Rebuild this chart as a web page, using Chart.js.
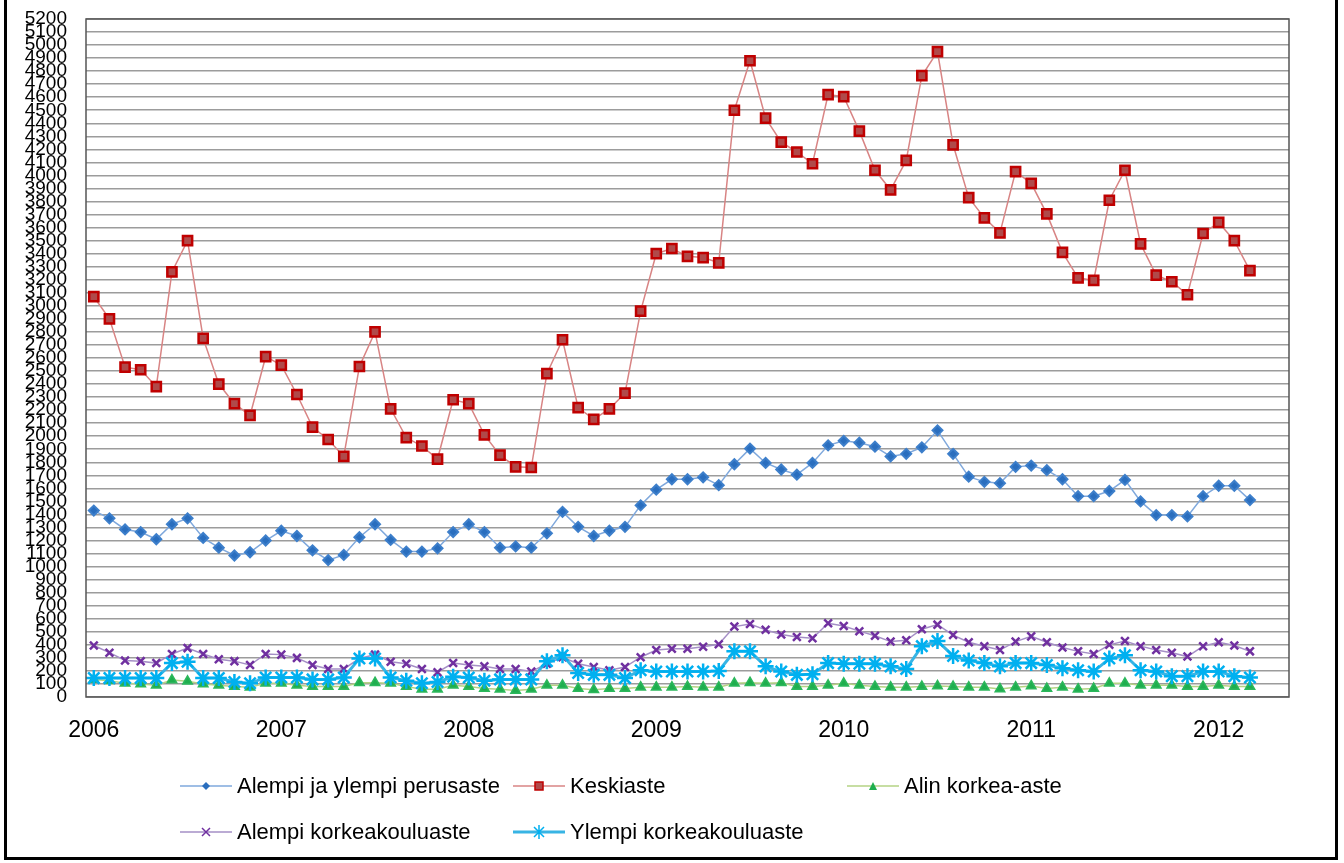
<!DOCTYPE html>
<html>
<head>
<meta charset="utf-8">
<script src="https://cdn.jsdelivr.net/npm/chart.js@4.4.1/dist/chart.umd.min.js"></script>
<style>
    html, body { margin: 0; padding: 0; background: #fff; }
    #wrap { position: relative; width: 1344px; height: 863px; overflow: hidden; }
    #kaavio { position: absolute; left: 0; top: 0; }
    #kehys {
        position: absolute; left: 4px; top: 0; width: 1328px; height: 857px;
        border: 3px solid #000; border-top: none; pointer-events: none;
    }
    .selite {
        position: absolute; display: flex; align-items: center; height: 24px;
        font-family: "Liberation Sans", Arial, sans-serif; font-size: 22px; color: #000;
        white-space: nowrap;
    }
    .selite svg { margin-right: 5px; }
</style>
</head>
<body>
<div id="wrap">
    <canvas id="kaavio" width="1344" height="863"></canvas>
    <div id="kehys"></div>
    <div id="selitteet"></div>
</div>
<script>
// Vuodet ja kuukaudet (x-akseli)
const vuodet = ['2006', '2007', '2008', '2009', '2010', '2011', '2012'];
const kuukaudet = ['01', '02', '03', '04', '05', '06', '07', '08', '09', '10', '11', '12'];

// Sarjat, tammikuu 2006 - maaliskuu 2012
const perusaste = [1430, 1370, 1285, 1265, 1210, 1325, 1370, 1220, 1145, 1085, 1110, 1200,
    1275, 1235, 1125, 1050, 1090, 1225, 1325, 1205, 1115, 1115, 1140, 1265,
    1325, 1265, 1145, 1155, 1145, 1255, 1420, 1305, 1235, 1275, 1305, 1470,
    1590, 1670, 1670, 1685, 1625, 1785, 1905, 1795, 1745, 1705, 1795, 1930,
    1965, 1950, 1920, 1845, 1865, 1915, 2045, 1865, 1690, 1650, 1640, 1765,
    1775, 1740, 1670, 1540, 1540, 1580, 1665, 1500, 1395, 1395, 1385, 1540,
    1620, 1620, 1510];

const keskiaste = [3070, 2900, 2530, 2510, 2380, 3260, 3500, 2750, 2400, 2250, 2160, 2610,
    2545, 2320, 2070, 1975, 1845, 2535, 2800, 2210, 1990, 1925, 1825, 2280,
    2250, 2010, 1855, 1765, 1760, 2480, 2740, 2220, 2130, 2210, 2330, 2960,
    3400, 3440, 3380, 3370, 3330, 4500, 4880, 4440, 4255, 4180, 4090, 4620,
    4605, 4340, 4040, 3890, 4115, 4765, 4950, 4235, 3830, 3675, 3560, 4030,
    3940, 3705, 3410, 3215, 3195, 3810, 4040, 3475, 3235, 3185, 3085, 3555,
    3640, 3500, 3270];

const alinKorkea = [135, 125, 105, 100, 90, 130, 120, 100, 90, 80, 75, 105,
    105, 90, 80, 80, 80, 110, 110, 105, 80, 60, 60, 90,
    80, 65, 60, 50, 60, 90, 90, 65, 55, 65, 65, 75,
    75, 75, 80, 75, 75, 105, 110, 105, 110, 80, 80, 90,
    105, 90, 80, 75, 75, 80, 85, 80, 75, 75, 62, 75,
    85, 65, 75, 60, 65, 105, 105, 90, 90, 90, 80, 80,
    90, 80, 80];

const alempiKorkea = [395, 340, 280, 275, 260, 330, 375, 330, 290, 275, 245, 330,
    325, 300, 245, 215, 215, 295, 325, 270, 255, 215, 190, 260,
    245, 235, 215, 215, 195, 255, 305, 255, 230, 205, 230, 305,
    360, 370, 370, 385, 405, 540, 560, 515, 480, 460, 450, 565,
    545, 505, 470, 425, 435, 520, 555, 475, 420, 390, 360, 425,
    465, 420, 380, 350, 330, 400, 430, 390, 360, 340, 310, 390,
    420, 395, 350];

const ylempiKorkea = [145, 145, 145, 145, 145, 260, 270, 145, 145, 115, 105, 150,
    150, 150, 135, 135, 150, 295, 295, 150, 125, 105, 115, 155,
    150, 125, 135, 135, 135, 275, 320, 185, 170, 170, 145, 205,
    195, 195, 195, 195, 200, 350, 350, 235, 195, 170, 175, 260,
    255, 255, 255, 235, 215, 390, 430, 315, 280, 260, 235, 260,
    260, 245, 220, 205, 195, 295, 320, 205, 195, 160, 160, 195,
    195, 160, 150];

// Akseli jatkuu pari kuukautta viimeisen arvon yli
const kategoriat = [];
vuodet.forEach(v => kuukaudet.forEach(k => kategoriat.push(k + '/' + v)));
const labels = kategoriat.slice(0, 77);

// Sarjojen tyylit (Excel-tyyliset merkit)
const sarjat = [
    { nimi: 'Alempi ja ylempi perusaste', data: perusaste, viiva: '#7FA8DC', merkki: '#2A6EBE', reuna: '#3D7FCB', tyyli: 'rectRot', koko: 5, paksuus: 1.5, merkkiReuna: 2 },
    { nimi: 'Keskiaste', data: keskiaste, viiva: '#D88484', merkki: '#B04A4A', reuna: '#C00000', tyyli: 'rect', koko: 6.5, paksuus: 1.5, merkkiReuna: 2.5 },
    { nimi: 'Alin korkea-aste', data: alinKorkea, viiva: '#B5D384', merkki: '#1FAE4E', reuna: '#2CB85C', tyyli: 'triangle', koko: 5.5, paksuus: 1.5, merkkiReuna: 1.5 },
    { nimi: 'Alempi korkeakouluaste', data: alempiKorkea, viiva: '#A58FC6', merkki: '#7030A0', reuna: '#7030A0', tyyli: 'crossRot', koko: 5.5, paksuus: 1.5, merkkiReuna: 2.5 },
    { nimi: 'Ylempi korkeakouluaste', data: ylempiKorkea, viiva: '#38B4E4', merkki: '#00B0F0', reuna: '#00B0F0', tyyli: 'star', koko: 8, paksuus: 3, merkkiReuna: 2.5 },
];

// Piirtoalueen reunaviiva
const reunaPlugin = {
    id: 'reuna',
    afterDraw(chart) {
        const { ctx, chartArea } = chart;
        ctx.save();
        ctx.strokeStyle = '#555';
        ctx.lineWidth = 1.5;
        ctx.strokeRect(chartArea.left, chartArea.top, chartArea.right - chartArea.left, chartArea.bottom - chartArea.top);
        ctx.restore();
    }
};

const ctx = document.getElementById('kaavio').getContext('2d');
new Chart(ctx, {
    type: 'line',
    data: {
        labels: labels,
        datasets: sarjat.map((s, i) => ({
            label: s.nimi,
            data: s.data,
            borderColor: s.viiva,
            borderWidth: s.paksuus,
            backgroundColor: s.merkki,
            pointStyle: s.tyyli,
            pointRadius: s.koko,
            pointBorderWidth: s.merkkiReuna,
            pointBackgroundColor: s.merkki,
            pointBorderColor: s.reuna,
            tension: 0,
            fill: false,
            order: sarjat.length - i,
        })),
    },
    options: {
        responsive: false,
        animation: false,
        layout: { padding: { top: 19, right: 55, left: 0, bottom: 0 } },
        plugins: {
            legend: { display: false },
            tooltip: { enabled: false },
        },
        scales: {
            x: {
                offset: true,
                grid: { display: false, drawTicks: false },
                border: { display: false },
                ticks: {
                    autoSkip: false,
                    maxRotation: 0,
                    padding: 20,
                    color: '#000',
                    font: { family: 'Liberation Sans', size: 23 },
                    callback: function (val, index) {
                        return index % 12 === 0 ? vuodet[index / 12] : '';
                    },
                },
                afterFit: function (scale) { scale.height = 166; },
            },
            y: {
                min: 0,
                max: 5200,
                grid: { color: '#9C9C9C', lineWidth: 1.6, drawTicks: false },
                border: { display: false },
                ticks: {
                    stepSize: 100,
                    autoSkip: false,
                    padding: 19,
                    color: '#000',
                    font: { family: 'Liberation Sans', size: 19 },
                    callback: function (val) { return String(val); },
                },
                afterFit: function (scale) {
                    scale.width = 86;
                    scale.paddingTop = 0;
                    scale.paddingBottom = 0;
                },
            },
        },
    },
    plugins: [reunaPlugin],
});

// Selitteet HTML:nä, Excelin ruudukkoasettelu
const paikat = [
    { left: 180, top: 774 },
    { left: 513, top: 774 },
    { left: 847, top: 774 },
    { left: 180, top: 820 },
    { left: 513, top: 820 },
];

function merkkiSvg(s) {
    const cx = 26, cy = 12;
    let m = '';
    if (s.tyyli === 'rectRot') {
        m = `<polygon points="${cx - 4},${cy} ${cx},${cy - 4} ${cx + 4},${cy} ${cx},${cy + 4}" fill="${s.merkki}"/>`;
    } else if (s.tyyli === 'rect') {
        m = `<rect x="${cx - 4}" y="${cy - 4}" width="8" height="8" fill="${s.merkki}" stroke="${s.reuna}" stroke-width="1.5"/>`;
    } else if (s.tyyli === 'triangle') {
        m = `<polygon points="${cx - 4},${cy + 4} ${cx},${cy - 4} ${cx + 4},${cy + 4}" fill="${s.merkki}"/>`;
    } else if (s.tyyli === 'crossRot') {
        m = `<path d="M${cx - 4} ${cy - 4}L${cx + 4} ${cy + 4}M${cx + 4} ${cy - 4}L${cx - 4} ${cy + 4}" stroke="${s.merkki}" stroke-width="1.5"/>`;
    } else {
        m = `<path d="M${cx} ${cy - 7}L${cx} ${cy + 7}M${cx - 5} ${cy - 5}L${cx + 5} ${cy + 5}M${cx + 5} ${cy - 5}L${cx - 5} ${cy + 5}" stroke="${s.merkki}" stroke-width="1.5"/>`;
    }
    return `<svg width="52" height="24"><line x1="0" y1="${cy}" x2="52" y2="${cy}" stroke="${s.viiva}" stroke-width="${s.paksuus === 3 ? 3 : 1.5}"/>${m}</svg>`;
}

const selitteet = document.getElementById('selitteet');
sarjat.forEach((s, i) => {
    const d = document.createElement('div');
    d.className = 'selite';
    d.style.left = paikat[i].left + 'px';
    d.style.top = paikat[i].top + 'px';
    d.innerHTML = merkkiSvg(s) + '<span>' + s.nimi + '</span>';
    selitteet.appendChild(d);
});
</script>
</body>
</html>
